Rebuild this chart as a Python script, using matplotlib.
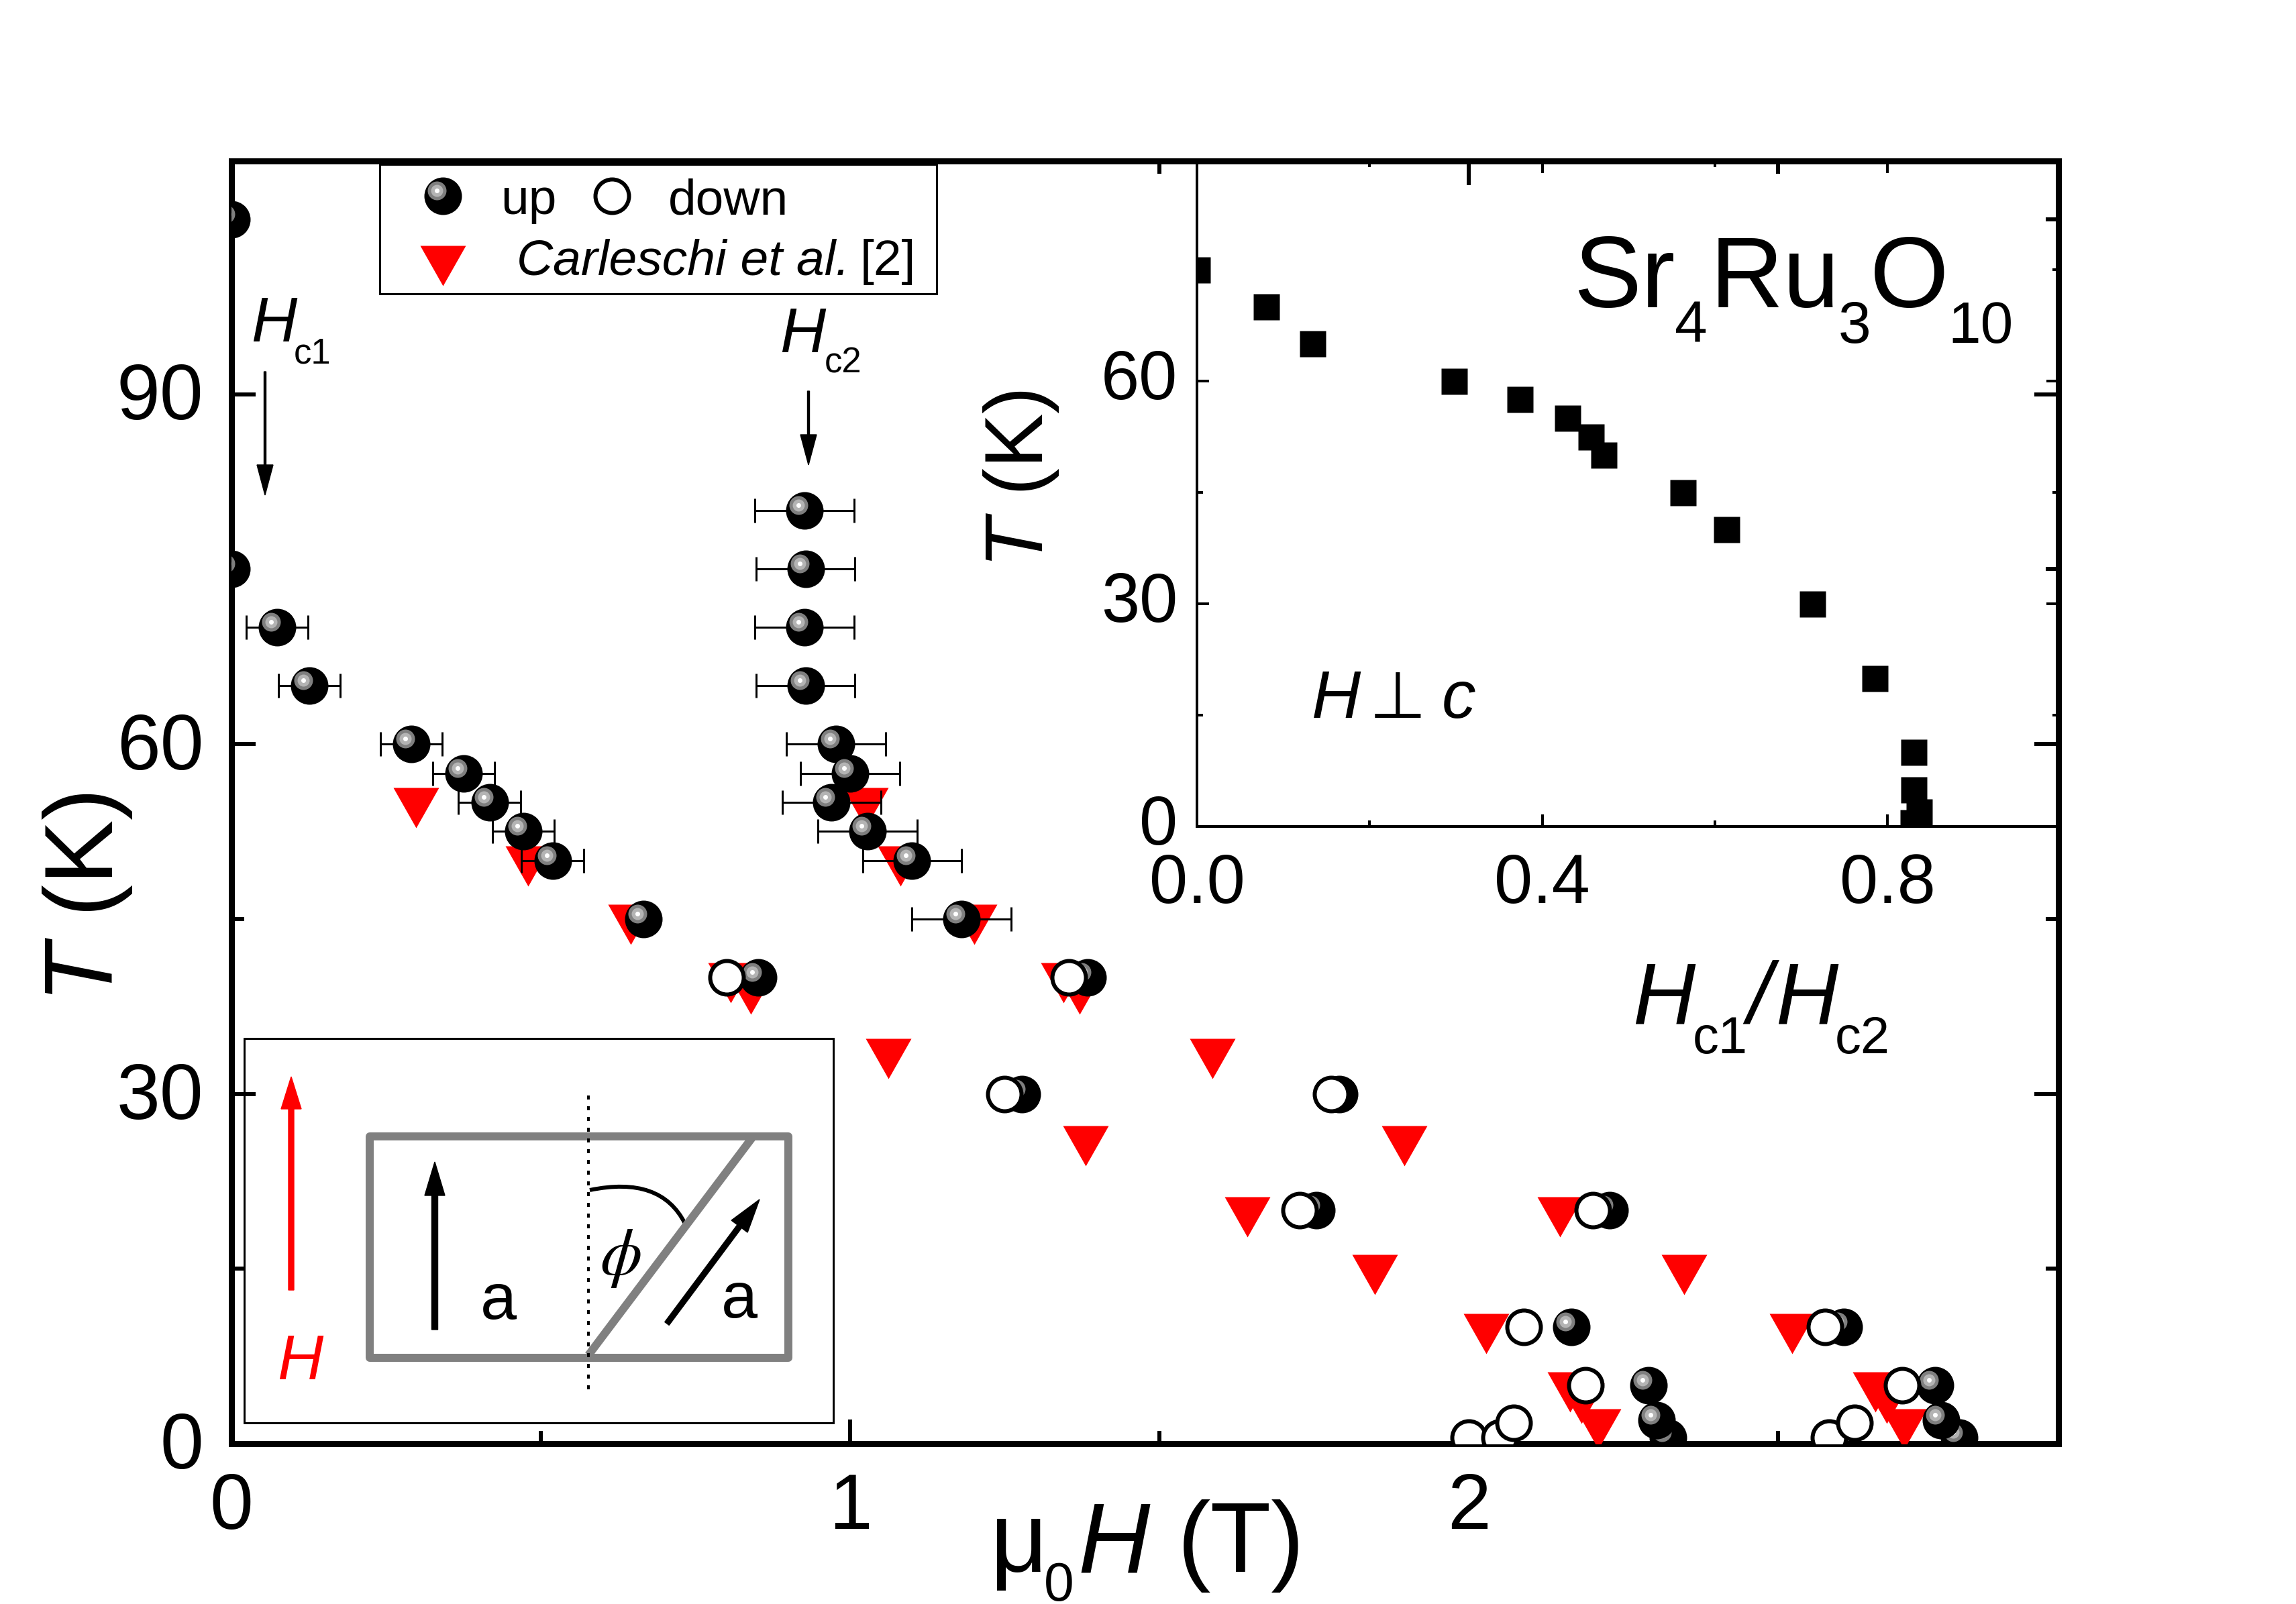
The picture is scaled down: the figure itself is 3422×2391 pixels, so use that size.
import matplotlib
matplotlib.use("Agg")
import matplotlib.pyplot as plt
from matplotlib.patches import Rectangle, PathPatch
from matplotlib.path import Path
from matplotlib.transforms import offset_copy, ScaledTranslation

plt.rcParams['font.family'] = ['Liberation Sans', 'DejaVu Sans']
plt.rcParams['mathtext.fontset'] = 'custom'
plt.rcParams['mathtext.rm'] = 'Liberation Sans'
plt.rcParams['mathtext.it'] = 'Liberation Sans:italic'
plt.rcParams['mathtext.bf'] = 'Liberation Sans:bold'

# field sweep up, with error bars (Hc1 branch, Hc2 branch)
hc1_H = [0.0, 0.0, 0.074, 0.126, 0.291, 0.375, 0.417, 0.472, 0.519]
hc1_T = [105, 75, 70, 65, 60, 57.5, 55, 52.5, 50]
hc1_err = [0, 0, 0.05, 0.05, 0.05, 0.05, 0.05, 0.05, 0.05]
hc2_H = [0.926, 0.928, 0.926, 0.928, 0.977, 1.0, 0.97, 1.028, 1.10, 1.18]
hc2_T = [80, 75, 70, 65, 60, 57.5, 55, 52.5, 50, 45]
hc2_err = [0.08] * 10

# field sweep up, no error bars
up_H = [0.666, 0.851, 1.384, 1.277, 1.79, 1.754, 2.227, 2.166, 2.606, 2.322, 2.29, 2.303, 2.792, 2.754, 2.763]
up_T = [45, 40, 40, 30, 30, 20, 20, 10, 10, 0.5, 5, 2, 0.5, 5, 2]

down_H = [0.80, 1.353, 1.249, 1.777, 1.727, 2.20, 2.089, 2.576, 2.188, 2.70, 2.00, 2.05, 2.072, 2.582, 2.623]
down_T = [40, 40, 30, 30, 20, 20, 10, 10, 5, 5, 0.5, 0.5, 1.8, 0.5, 1.8]

carl_H = [0.298, 1.025, 0.479, 1.081, 0.645, 1.20, 0.807, 1.345, 0.839, 1.371, 1.062, 1.585, 1.381, 1.896,
          1.642, 2.147, 1.848, 2.348, 2.028, 2.523, 2.163, 2.657, 2.182, 2.675, 2.209, 2.704]
carl_T = [55.1, 55.1, 50.1, 50.1, 45.1, 45.1, 40.1, 40.1, 39.1, 39.1, 33.6, 33.6, 26.1, 26.1,
          20, 20, 15.1, 15.1, 10, 10, 5, 5, 4, 4, 1.85, 1.85]

# inset
ratio = [0.0, 0.080, 0.134, 0.298, 0.374, 0.429, 0.456, 0.471, 0.563, 0.613, 0.713, 0.785, 0.830, 0.830, 0.836, 0.829]
ratio_T = [75, 70, 65, 60, 57.5, 55, 52.5, 50, 45, 40, 30, 20, 10, 5, 2, 0.5]

W, H = 3423, 2391
PX = 72 / 100  # points per pixel at dpi 100
tri = [(-34, 20), (34, 20), (0, -40)]
tri_ms = 80 * PX


def frac(x0, y0, x1, y1):
    return [x0 / W, 1 - y1 / H, (x1 - x0) / W, (y1 - y0) / H]


fig = plt.figure(figsize=(W / 100, H / 100), dpi=100)
ax = fig.add_axes(frac(345, 240, 3068, 2152))
ax.set_xlim(0, 2.953)
ax.set_ylim(0, 110)
ax.set_xticks([0, 1, 2])
ax.set_xticks([0.5, 1.5, 2.5], minor=True)
ax.set_yticks([0, 30, 60, 90])
ax.set_yticks([15, 45, 75, 105], minor=True)
ax.tick_params(which='major', direction='in', top=True, right=True, length=36 * PX, width=6 * PX,
               labelsize=84)
ax.tick_params(which='minor', direction='in', top=True, right=True, length=19 * PX, width=6 * PX)
ax.tick_params(axis='x', which='major', pad=30)
ax.tick_params(axis='y', which='major', pad=30)
for s in ax.spines.values():
    s.set_linewidth(9 * PX)

ax.plot(carl_H, carl_T, ls='none', marker=tri, ms=tri_ms, mfc='#ff0000', mec='none', zorder=3)

for hx, ht, he in [(hc1_H, hc1_T, hc1_err), (hc2_H, hc2_T, hc2_err)]:
    ax.errorbar(hx, ht, xerr=he, fmt='none', ecolor='k', elinewidth=3 * PX, capsize=18 * PX,
                capthick=3 * PX, zorder=4)

# shaded balls: black disc plus offset grey discs, one point at a time so overlaps stack right
shift = offset_copy(ax.transData, fig=fig, x=-9, y=8, units='dots')


def ball(hv, tv, z):
    ax.plot([hv], [tv], 'o', ms=56 * PX, mfc='k', mec='none', zorder=z)
    for d, c, dz in [(28, '#7f7f7f', 0.1), (18, '#b4b4b4', 0.2), (7, '#ffffff', 0.3)]:
        ax.plot([hv], [tv], 'o', ms=d * PX, mfc=c, mec='none', zorder=z + dz, transform=shift)


z = 5
for hv, tv in zip(hc1_H + hc2_H + up_H, hc1_T + hc2_T + up_T):
    ball(hv, tv, z)
    z += 1

ax.plot(down_H, down_T, ls='none', marker='o', ms=50 * PX, mfc='w', mec='k', mew=6 * PX, zorder=z)

ax.set_ylabel('$\\mathit{T}$ (K)', fontsize=104, va='baseline')
ax.yaxis.set_label_coords(-0.065, 0.4257)
for lab in ax.get_yticklabels():
    lab.set_transform(lab.get_transform() + ScaledTranslation(0, 0.05, fig.dpi_scale_trans))

# inset
axi = fig.add_axes(frac(1784, 240, 3068, 1232))
axi.patch.set_visible(False)
axi.set_xlim(0, 0.998)
axi.set_ylim(0, 89.6)
axi.set_xticks([0, 0.4, 0.8])
axi.set_xticklabels(['0.0', '0.4', '0.8'])
axi.set_xticks([0.2, 0.6], minor=True)
axi.set_yticks([0, 30, 60])
axi.set_yticks([15, 45, 75], minor=True)
axi.tick_params(which='major', direction='in', top=True, right=True, length=18 * PX, width=4 * PX,
                labelsize=74)
axi.tick_params(which='minor', direction='in', top=True, right=True, length=9 * PX, width=4 * PX)
axi.tick_params(axis='x', which='major', pad=28)
axi.tick_params(axis='y', which='major', pad=21)
for s in axi.spines.values():
    s.set_linewidth(4 * PX)
axi.plot(ratio, ratio_T, ls='none', marker='s', ms=39 * PX, mfc='k', mec='none')
axi.set_ylabel('$\\mathit{T}$ (K)', fontsize=88, va='baseline')
axi.yaxis.set_label_coords(-0.179, 0.522)
for lab in axi.get_yticklabels():
    lab.set_transform(lab.get_transform() + ScaledTranslation(0, 0.1, fig.dpi_scale_trans))

# everything hand placed goes on a pixel overlay
ov = fig.add_axes([0, 0, 1, 1])
ov.patch.set_visible(False)
ov.set_xlim(0, W)
ov.set_ylim(H, 0)
ov.axis('off')


def txt(x, y, s, size, **kw):
    kw.setdefault('va', 'baseline')
    kw.setdefault('ha', 'left')
    ov.text(x, y, s, fontsize=size, **kw)


def arrow(x0, y0, x1, y1, w, hw, hl, c='k'):
    ov.arrow(x0, y0, x1 - x0, y1 - y0, width=w, head_width=hw, head_length=hl,
             length_includes_head=True, fc=c, ec=c, lw=1)


# x labels, built in pieces because the subscripts sit low
txt(1476, 2343, 'μ', 107)
txt(1556, 2386, '0', 58)
txt(1606, 2343, 'H', 107, style='italic')
txt(1755, 2343, '(T)', 107)
txt(2433, 1525, 'H', 93, style='italic')
txt(2523, 1570, 'c1', 56)
txt(2604, 1525, '/', 93, style='italic')
txt(2646, 1525, 'H', 93, style='italic')
txt(2735, 1570, 'c2', 56)

# legend box
ov.add_patch(Rectangle((566, 245), 830, 193, fc='w', ec='k', lw=3 * PX, zorder=1))
ov.plot([660], [292], 'o', ms=56 * PX, mfc='k', mec='none', zorder=2)
ov.plot([651], [284], 'o', ms=28 * PX, mfc='#7f7f7f', mec='none', zorder=2)
ov.plot([651], [284], 'o', ms=18 * PX, mfc='#b4b4b4', mec='none', zorder=2)
ov.plot([651], [284], 'o', ms=7 * PX, mfc='w', mec='none', zorder=2)
ov.plot([912], [292], 'o', ms=50 * PX, mfc='w', mec='k', mew=6 * PX, zorder=2)
ov.plot([660], [386], ls='none', marker=tri, ms=tri_ms, mfc='#ff0000', mec='none', zorder=2)
txt(746, 319, 'up', 54, zorder=3)
txt(996, 319, 'down', 54, zorder=3)
txt(770, 410, 'Carleschi et al.', 54, style='italic', zorder=3)
txt(1365, 410, '[2]', 54, ha='right', zorder=3)

# Hc1, Hc2 labels and arrows
txt(374, 509, 'H', 68, style='italic')
txt(438, 541, 'c1', 38)
arrow(395, 554, 395, 738, 3, 24, 45)
txt(1162, 525, 'H', 68, style='italic')
txt(1229, 556, 'c2', 38)
arrow(1205, 583, 1205, 693, 3, 24, 45)

# compound formula and field direction in inset
txt(2345, 458, 'Sr', 109)
txt(2496, 511, '4', 63)
txt(2549, 458, 'Ru', 109)
txt(2740, 511, '3', 63)
txt(2787, 458, 'O', 109)
txt(2903, 511, '10', 63)
txt(1955, 1070, 'H', 73, style='italic')
txt(2083, 1070, '⊥', 70, ha='center')
txt(2149, 1070, 'c', 73, style='italic')

# sketch of the sample
ov.add_patch(Rectangle((364, 1548), 878, 573, fc='none', ec='k', lw=3 * PX))
ov.add_patch(Rectangle((551, 1694), 624, 330, fc='none', ec='#808080', lw=12 * PX, joinstyle='round'))
ov.plot([877, 1121], [2020, 1696], color='#808080', lw=12 * PX, solid_capstyle='butt')
ov.plot([877, 877], [1633, 2071], color='k', lw=4 * PX, ls=(0, (1.5, 2.5)))
arrow(434, 1923, 434, 1605, 8, 30, 48, c='#ff0000')
arrow(648, 1982, 648, 1732, 9, 30, 50)
arrow(994, 1973, 1132, 1788, 8, 30, 50)
ov.add_patch(PathPatch(Path([(879, 1774), (985, 1752), (1021, 1824)],
                            [Path.MOVETO, Path.CURVE3, Path.CURVE3]),
                       fc='none', ec='k', lw=6 * PX))
txt(447, 2056, 'H', 68, style='italic', color='#ff0000', ha='center')
txt(743, 1966, 'a', 70, ha='center')
txt(1102, 1964, 'a', 70, ha='center')
ov.text(925, 1875, '$\\phi$', fontsize=72, math_fontfamily='stix', ha='center', va='center')

fig.savefig("out.png", dpi=100)
